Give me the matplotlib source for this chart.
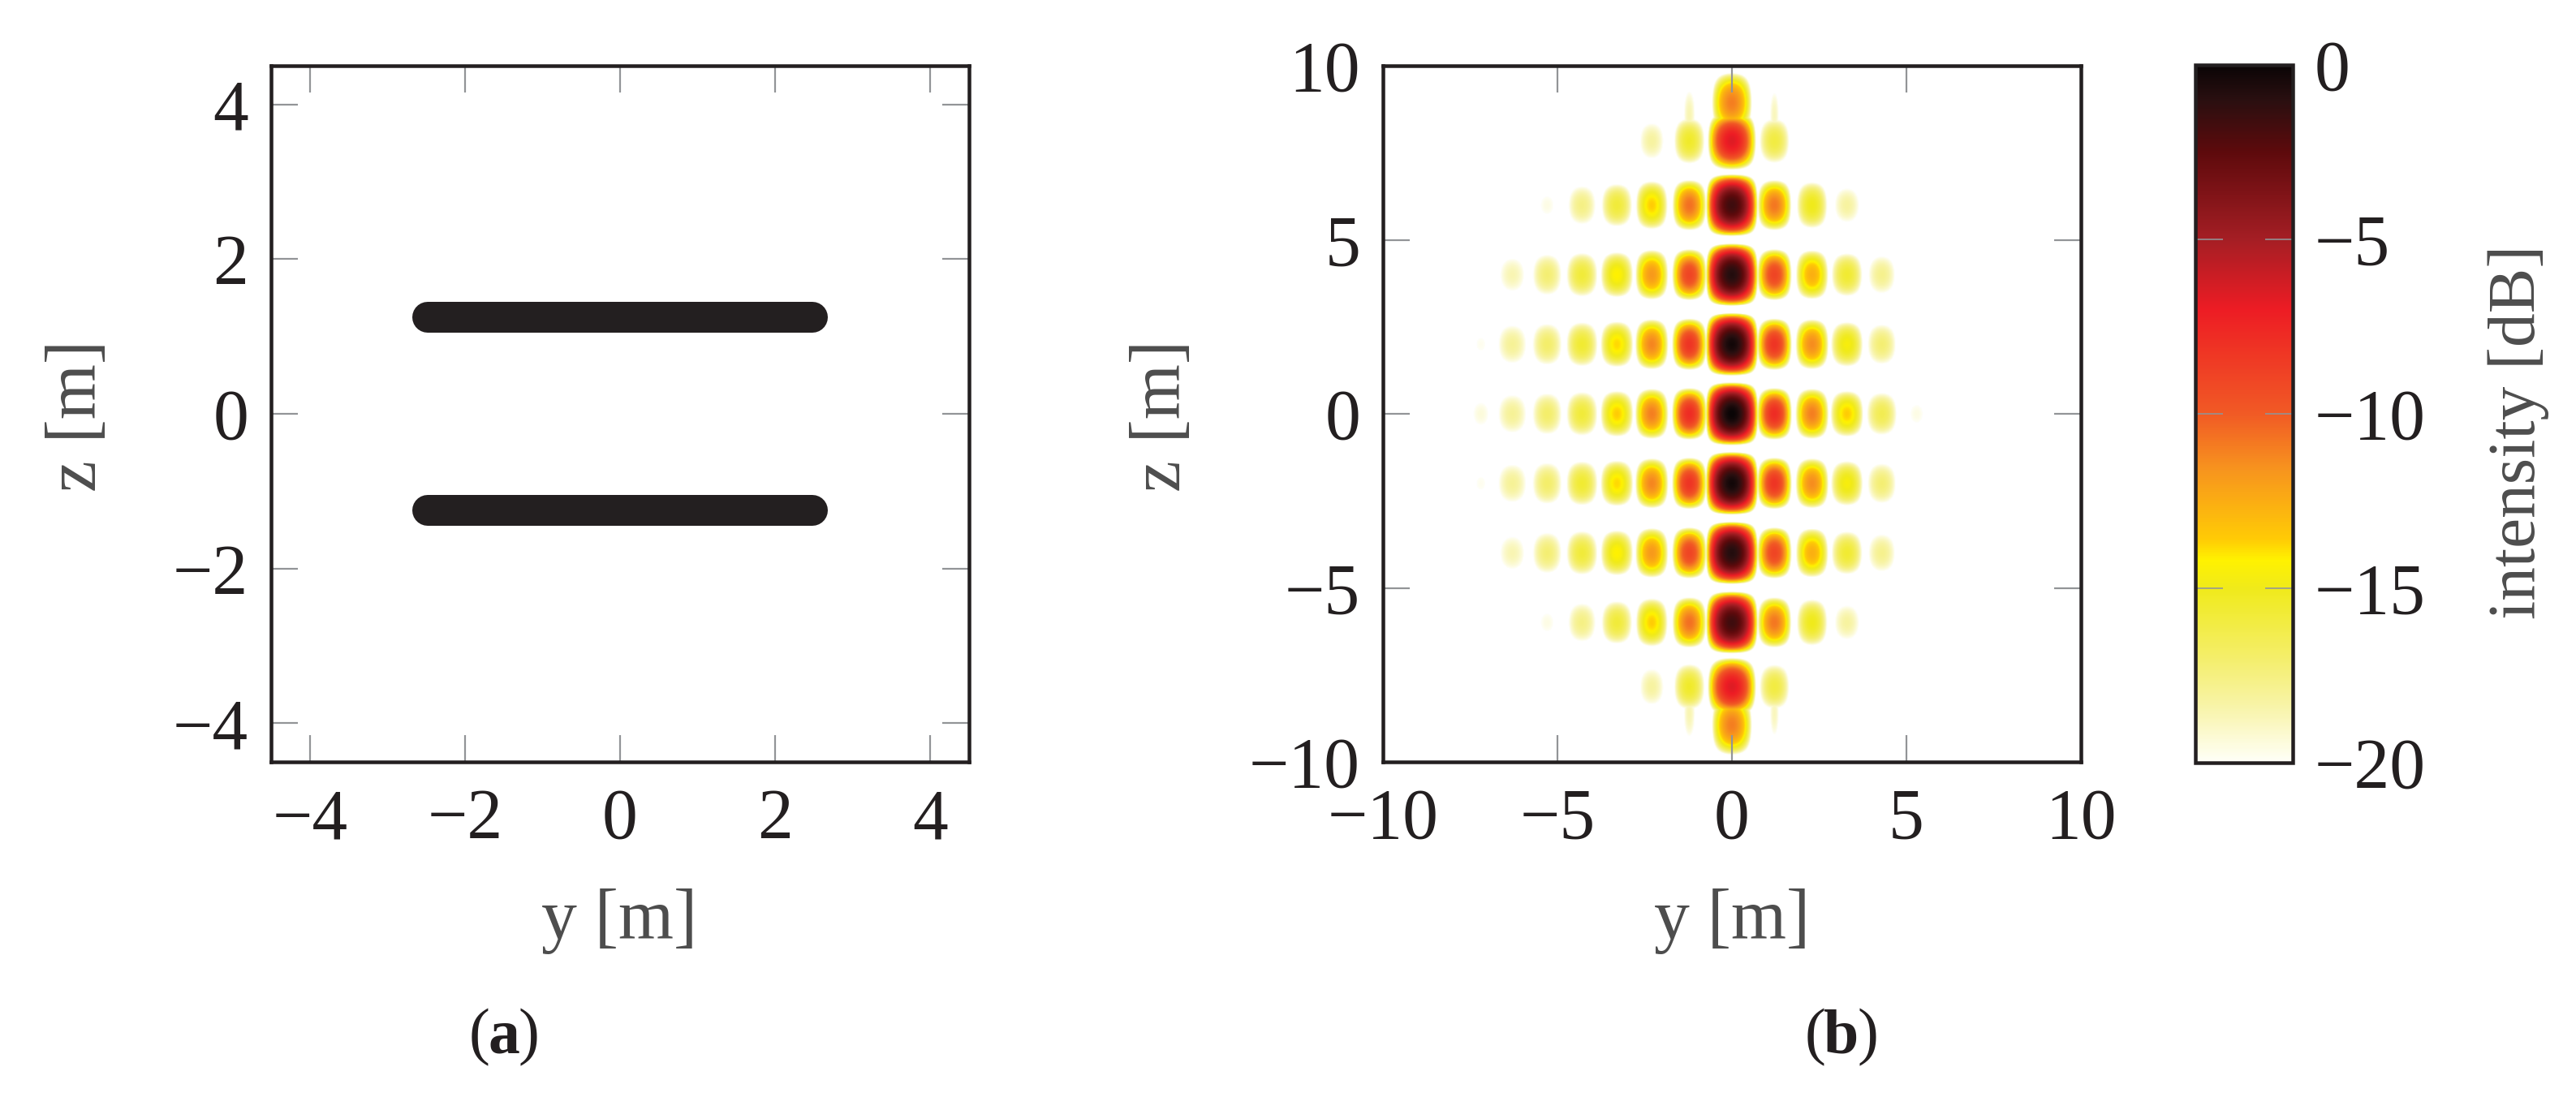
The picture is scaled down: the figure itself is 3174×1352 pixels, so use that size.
#!/usr/bin/env python3
import numpy as np
import matplotlib
matplotlib.use("Agg")
import matplotlib.pyplot as plt
from matplotlib.colors import LinearSegmentedColormap, Normalize
from matplotlib.cm import ScalarMappable

W, H = 3174, 1352
DPI = 100
PX = 72 / DPI  # points per pixel

INK = "#231f20"
LABEL = "#4d4d4d"
TICK = "#929497"

# panel (a)
bar_y = [-2.48, 2.48]
bar_z = [1.25, -1.25]
ticks_a = [-4, -2, 0, 2, 4]

# panel (b): peak level of every lobe [dB]
lobe_y = [-7.2, -6.3, -5.3, -4.3, -3.3, -2.3, -1.22, 0.0, 1.22, 2.3, 3.3, 4.3, 5.3]
lobe_wy = [1.2, 1.32, 1.24, 1.22, 1.2, 1.16, 1.18, 1.6, 1.18, 1.16, 1.2, 1.22, 1.2]
lobe_wz = [1.8, 1.8, 1.75, 1.72, 1.68, 1.76, 1.76, 1.92, 1.76, 1.76, 1.68, 1.72, 1.75]
lobe_z = [0.0, 2.0, 4.0, 6.0, 7.85]
peaks_z0 = [-19.4, -18.0, -17.0, -15.8, -13.6, -11.0, -7.8, 0.0, -7.8, -11.0, -13.6, -16.4, -19.6]
peaks_z2 = [-19.8, -18.0, -17.0, -15.6, -13.8, -11.2, -8.2, -0.3, -8.2, -11.4, -14.6, -17.2, -99.0]
peaks_z4 = [-99.0, -18.6, -17.2, -15.8, -14.2, -11.8, -9.0, -0.8, -9.0, -12.6, -15.6, -17.8, -99.0]
peaks_z6 = [-99.0, -99.0, -19.6, -17.6, -15.8, -13.6, -10.6, -1.6, -10.8, -15.0, -18.2, -99.0, -99.0]
peaks_z8 = [-99.0, -99.0, -99.0, -99.0, -99.0, -18.2, -15.4, -6.6, -16.0, -99.0, -99.0, -99.0, -99.0]
# narrow tips above/below the outermost row
tip_y = [-1.22, 0.0, 1.22]
tip_z = [8.6, 8.95, 8.6]
tip_peak = [-18.6, -11.0, -18.8]
tip_wy = [0.6, 1.4, 0.5]
tip_wz = [2.6, 2.1, 2.6]

ticks_b = [-10, -5, 0, 5, 10]
ticks_cb = [0, -5, -10, -15, -20]

cmap_db = [-20, -18.4, -17, -15, -14.2, -13.6, -11.6, -10, -7, -5, -2.5, -1, 0]
cmap_col = ["#fffff8", "#f8f4a8", "#f4ee6a", "#f0ea1a", "#fff200", "#ffcb05", "#f7941e",
            "#f15a25", "#ed1c24", "#a51e24", "#5e0a0c", "#2a0f10", "#0a0506"]


def box(x0, y0, x1, y1):
    return [x0 / W, 1 - y1 / H, (x1 - x0) / W, (y1 - y0) / H]


def style_axes(ax, xt, yt):
    ax.set_xticks(xt)
    ax.set_yticks(yt)
    ax.set_xticklabels([str(v).replace("-", "\u2212") for v in xt])
    ax.set_yticklabels([str(v).replace("-", "\u2212") for v in yt])
    ax.tick_params(axis="both", direction="in", top=True, right=True, length=33 * PX,
                   width=2.2 * PX, color=TICK, labelcolor=INK, labelsize=FS)
    ax.tick_params(axis="x", pad=32 * PX)
    ax.tick_params(axis="y", pad=28 * PX)
    for s in ax.spines.values():
        s.set_linewidth(4.5 * PX)
        s.set_color(INK)


def lobe(grid_y, grid_z, y0, z0, peak, wy, wz):
    # one lobe in dB: peak minus a cosine roll-off that reaches its null at w/2
    dy = np.abs(grid_y - y0) / wy
    dz = np.abs(grid_z - z0) / wz
    inside = (dy < 0.5) & (dz < 0.5)
    out = np.full(grid_y.shape, -99.0)
    k = np.interp(peak, [-18, -8], [0.45, 1.0])
    out[inside] = peak + k * 20 * np.log10(np.cos(np.pi * dy[inside]) * np.cos(np.pi * dz[inside]) + 1e-9)
    return out


def intensity_field():
    axis = np.linspace(-10, 10, 861)
    gy, gz = np.meshgrid(axis, axis)
    field = np.full(gy.shape, -99.0)
    rows = [peaks_z0, peaks_z2, peaks_z4, peaks_z6, peaks_z8]
    for z0, row in zip(lobe_z, rows):
        for y0, wy, wz, pk in zip(lobe_y, lobe_wy, lobe_wz, row):
            if pk < -90:
                continue
            field = np.maximum(field, lobe(gy, gz, y0, z0, pk, wy, wz))
            if z0 != 0:
                field = np.maximum(field, lobe(gy, gz, y0, -z0, pk, wy, wz))
    for y0, z0, pk, wy, wz in zip(tip_y, tip_z, tip_peak, tip_wy, tip_wz):
        field = np.maximum(field, lobe(gy, gz, y0, z0, pk, wy, wz))
        field = np.maximum(field, lobe(gy, gz, y0, -z0, pk, wy, wz))
    return field


FS = 63
plt.rcParams["font.family"] = ["Liberation Serif", "DejaVu Serif"]

fig = plt.figure(figsize=(W / DPI, H / DPI), dpi=DPI)

# (a) array geometry
ax_a = fig.add_axes(box(334, 81, 1194, 939))
for z in bar_z:
    ax_a.plot(bar_y, [z, z], color=INK, linewidth=38 * PX, solid_capstyle="round")
ax_a.set_xlim(-4.5, 4.5)
ax_a.set_ylim(-4.5, 4.5)
style_axes(ax_a, ticks_a, ticks_a)

# (b) intensity map
ax_b = fig.add_axes(box(1704, 81, 2564, 939))
norm = Normalize(vmin=-20, vmax=0)
stops = [(d + 20) / 20 for d in cmap_db]
cmap = LinearSegmentedColormap.from_list("intensity", list(zip(stops, cmap_col)), N=512)
cmap.set_under("white")
ax_b.imshow(intensity_field(), extent=[-10, 10, -10, 10], origin="lower", cmap=cmap, norm=norm,
            aspect="auto", interpolation="bilinear")
ax_b.set_xlim(-10, 10)
ax_b.set_ylim(-10, 10)
style_axes(ax_b, ticks_b, ticks_b)

# colour bar
cax = fig.add_axes(box(2705, 80, 2825, 940))
cb = fig.colorbar(ScalarMappable(norm=norm, cmap=cmap), cax=cax)
cb.set_ticks(ticks_cb)
cb.set_ticklabels([str(v).replace("-", "\u2212") for v in ticks_cb])
cb.outline.set_linewidth(4.5 * PX)
cb.outline.set_edgecolor(INK)
cax.tick_params(axis="y", direction="in", left=True, right=True, length=34 * PX, width=1.6 * PX,
                color=TICK, labelcolor=INK, labelsize=FS, pad=27 * PX)

# axis labels and captions
for x, y, s, rot, fs in [
    (763, 1135, "y [m]", 0, FS),
    (2134, 1135, "y [m]", 0, FS),
    (97, 513, "z [m]", 90, FS),
    (1433, 513, "z [m]", 90, FS),
    (3103, 532, "intensity [dB]", 90, 60),
]:
    fig.text(x / W, 1 - y / H, s, color=LABEL, fontsize=fs, rotation=rot, ha="center", va="center")

for x, letter in [(621, "a"), (2269, "b")]:
    t = fig.text(x / W, 1 - 1279 / H, f"({letter})", color="white", fontsize=56, ha="center", va="center")
    # bold letter between plain parentheses
    fig.canvas.draw()
    bb = t.get_window_extent()
    t.set_visible(False)
    fig.text(bb.x0 / W, 1 - 1279 / H, "(", color=INK, fontsize=56, ha="left", va="center")
    fig.text(x / W, 1 - 1279 / H, letter, color=INK, fontsize=56, fontweight="bold", ha="center", va="center")
    fig.text(bb.x1 / W, 1 - 1279 / H, ")", color=INK, fontsize=56, ha="right", va="center")

fig.savefig("out.png", dpi=DPI)
